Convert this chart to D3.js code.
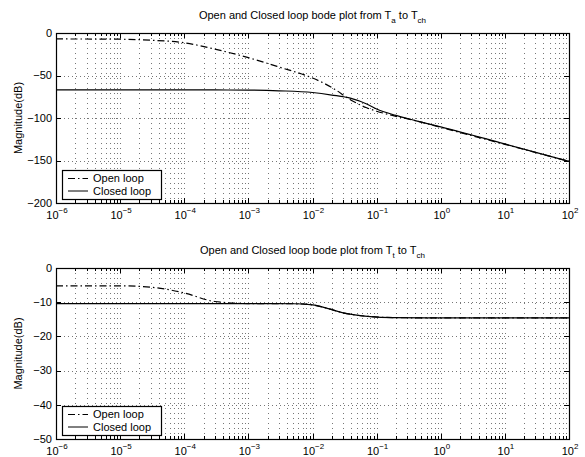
<!DOCTYPE html>
<html>
<head>
<meta charset="utf-8">
<script src="https://cdn.jsdelivr.net/npm/d3@7"></script>
<style>
body { margin: 0; background: #fff; }
text { font-family: "Liberation Sans", Arial, sans-serif; fill: #000; }
</style>
</head>
<body>
<svg id="chart" width="585" height="457"></svg>
<script>
// frequencies and magnitudes (dB)
var freqTa   = [1e-6, 1e-5, 3e-5, 1e-4, 3e-4, 1e-3, 3e-3, 1e-2, 2e-2, 4e-2, 7e-2, 0.1, 0.2, 0.4, 1, 10, 100];
var openTa   = [-7, -7.3, -8.5, -11.5, -19, -29, -40, -53, -64, -79, -88, -92, -98, -103, -111, -131, -151];
var closedTa = [-67, -67, -67, -67, -67, -67.2, -68, -70, -73, -77, -83.5, -89.5, -97, -103, -110.5, -130.5, -151];

var freqTt   = [1e-6, 1e-5, 3e-5, 1e-4, 3e-4, 1e-3, 5e-3, 1e-2, 1.7e-2, 3e-2, 8e-2, 0.18, 1, 10, 100];
var openTt   = [-5.2, -5.2, -5.6, -7.3, -9.8, -10.4, -10.45, -10.8, -11.8, -13.1, -14.2, -14.5, -14.6, -14.6, -14.6];
var closedTt = [-10.4, -10.4, -10.4, -10.4, -10.4, -10.4, -10.45, -10.8, -11.8, -13.1, -14.2, -14.5, -14.6, -14.6, -14.6];

var xTickExps = [-6, -5, -4, -3, -2, -1, 0, 1, 2];
var yTicksTa = [0, -50, -100, -150, -200];
var yTicksTt = [0, -10, -20, -30, -40, -50];
var legendLabels = ["Open loop", "Closed loop"];

var svg = d3.select("#chart");

var left = 56, right = 569;

var x = d3.scaleLog().domain([1e-6, 1e2]).range([left, right]);

// minor tick positions 2..9 in each decade
var minorTicks = [];
for (var d = -6; d < 2; d++) {
    for (var k = 2; k < 10; k++) {
        minorTicks.push(k * Math.pow(10, d));
    }
}
var majorTicks = xTickExps.map(function(e) { return Math.pow(10, e); });

function fmt(v) {
    return v < 0 ? "\u2212" + Math.abs(v) : String(v);
}

function drawPanel(top, bottom, yTicks, freq, open, closed, sub) {
    var y = d3.scaleLinear()
        .domain([yTicks[yTicks.length - 1], yTicks[0]])
        .range([bottom, top]);

    var g = svg.append("g");

    // grid
    var gridX = minorTicks.concat(majorTicks.slice(1, -1));
    g.selectAll("line.gx")
        .data(gridX)
        .enter()
        .append("line")
        .attr("x1", function(v) { return Math.round(x(v)) + 0.5; })
        .attr("x2", function(v) { return Math.round(x(v)) + 0.5; })
        .attr("y1", top)
        .attr("y2", bottom)
        .attr("stroke", "#777")
        .attr("stroke-width", 1)
        .attr("stroke-dasharray", "1,4");

    g.selectAll("line.gy")
        .data(yTicks.slice(1, -1))
        .enter()
        .append("line")
        .attr("x1", left)
        .attr("x2", right)
        .attr("y1", function(v) { return Math.round(y(v)) + 0.5; })
        .attr("y2", function(v) { return Math.round(y(v)) + 0.5; })
        .attr("stroke", "#777")
        .attr("stroke-width", 1)
        .attr("stroke-dasharray", "1,3");

    // tick marks, inside the box on all four sides
    var tickData = majorTicks.map(function(v) { return {v: v, len: 5}; })
        .concat(minorTicks.map(function(v) { return {v: v, len: 3}; }));
    tickData.forEach(function(t) {
        var px = Math.round(x(t.v)) + 0.5;
        g.append("line").attr("x1", px).attr("x2", px)
            .attr("y1", bottom).attr("y2", bottom - t.len)
            .attr("stroke", "#000");
        g.append("line").attr("x1", px).attr("x2", px)
            .attr("y1", top).attr("y2", top + t.len)
            .attr("stroke", "#000");
    });
    yTicks.forEach(function(v) {
        var py = Math.round(y(v)) + 0.5;
        g.append("line").attr("x1", left).attr("x2", left + 5)
            .attr("y1", py).attr("y2", py).attr("stroke", "#000");
        g.append("line").attr("x1", right).attr("x2", right - 5)
            .attr("y1", py).attr("y2", py).attr("stroke", "#000");
    });

    // curves
    var line = d3.line()
        .x(function(p) { return x(p[0]); })
        .y(function(p) { return y(p[1]); })
        .curve(d3.curveMonotoneX);

    g.append("path")
        .datum(d3.zip(freq, closed))
        .attr("d", line)
        .attr("fill", "none")
        .attr("stroke", "#000")
        .attr("stroke-width", 1.2);

    g.append("path")
        .datum(d3.zip(freq, open))
        .attr("d", line)
        .attr("fill", "none")
        .attr("stroke", "#000")
        .attr("stroke-width", 1.2)
        .attr("stroke-dasharray", "7,3,1.5,3");

    // box
    g.append("rect")
        .attr("x", left + 0.5)
        .attr("y", top + 0.5)
        .attr("width", right - left)
        .attr("height", bottom - top)
        .attr("fill", "none")
        .attr("stroke", "#000")
        .attr("stroke-width", 1.2);

    // y tick labels
    g.selectAll("text.yl")
        .data(yTicks)
        .enter()
        .append("text")
        .attr("x", left - 4)
        .attr("y", function(v) { return y(v); })
        .attr("dy", "0.35em")
        .attr("text-anchor", "end")
        .attr("font-size", 11)
        .text(fmt);

    // x tick labels 10^n
    xTickExps.forEach(function(e) {
        var t = g.append("text")
            .attr("x", x(Math.pow(10, e)) + 1)
            .attr("y", bottom + 16)
            .attr("text-anchor", "middle")
            .attr("font-size", 11);
        t.append("tspan").text("10");
        t.append("tspan").attr("dy", -6).attr("font-size", 8).text(fmt(e));
    });

    // title
    var title = g.append("text")
        .attr("x", (left + right) / 2)
        .attr("y", top - 14)
        .attr("text-anchor", "middle")
        .attr("font-size", 11);
    title.append("tspan").text("Open and Closed loop bode plot from T");
    title.append("tspan").attr("dy", 4).attr("font-size", 8).text(sub);
    title.append("tspan").attr("dy", -4).text(" to T");
    title.append("tspan").attr("dy", 4).attr("font-size", 8).text("ch");

    // y label
    g.append("text")
        .attr("transform", "translate(22," + ((top + bottom) / 2) + ") rotate(-90)")
        .attr("text-anchor", "middle")
        .attr("font-size", 11)
        .text("Magnitude(dB)");

    // legend
    var lg = g.append("g").attr("transform", "translate(62," + (bottom - 33) + ")");
    lg.append("rect")
        .attr("x", 0.5).attr("y", 0.5)
        .attr("width", 99).attr("height", 29)
        .attr("fill", "#fff")
        .attr("stroke", "#000")
        .attr("stroke-width", 1.2);
    legendLabels.forEach(function(lab, i) {
        var ly = 8.5 + i * 12.5;
        lg.append("line")
            .attr("x1", 6).attr("x2", 26)
            .attr("y1", ly).attr("y2", ly)
            .attr("stroke", "#000")
            .attr("stroke-dasharray", i == 0 ? "7,3,1.5,3" : null);
        lg.append("text")
            .attr("x", 31).attr("y", ly)
            .attr("dy", "0.35em")
            .attr("font-size", 11)
            .text(lab);
    });
}

drawPanel(33, 203, yTicksTa, freqTa, openTa, closedTa, "a");
drawPanel(268, 439, yTicksTt, freqTt, openTt, closedTt, "t");
</script>
</body>
</html>
